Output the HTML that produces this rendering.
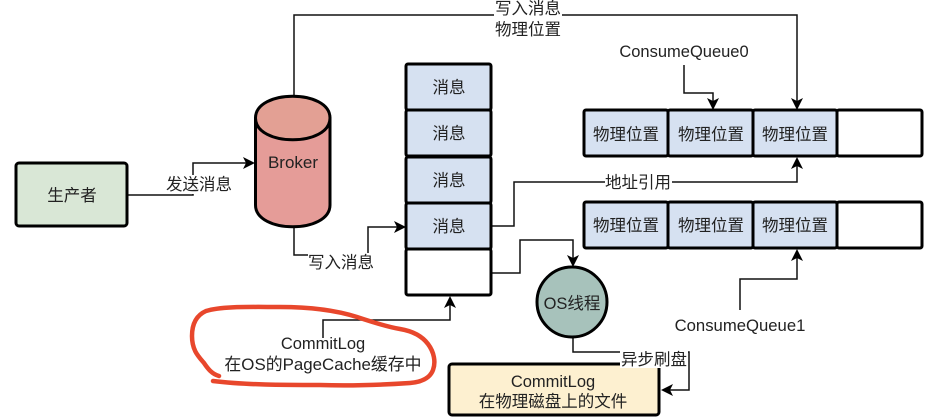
<!DOCTYPE html>
<html><head><meta charset="utf-8"><style>
html,body{margin:0;padding:0;background:#fff;width:935px;height:417px;overflow:hidden}
svg{display:block;filter:blur(.35px)}
text{font-family:"Liberation Sans","Noto Sans CJK SC",sans-serif;font-size:16.5px;fill:#222;text-anchor:middle}
.b{stroke:#000;stroke-width:3;stroke-linejoin:round}
.l{fill:none;stroke:#111;stroke-width:1.5}
.a{fill:#000}
.bg{fill:#fff}
</style></head><body>
<svg width="935" height="417" viewBox="0 0 935 417" xmlns="http://www.w3.org/2000/svg">
<!-- connectors -->
<path class="l" d="M127 195H193V163H247"/>
<path class="l" d="M294 96V15H797V102"/>
<path class="l" d="M294 227V255H368V227H398"/>
<path class="l" d="M491 226H514V182H797V165"/>
<path class="l" d="M491 273H520V240H573V259"/>
<path class="l" d="M323 338V320H450V304"/>
<path class="l" d="M684 65V93H713V102"/>
<path class="l" d="M740 310V279H797V258"/>
<path class="l" d="M573 337V352H689V390H668"/>
<!-- arrowheads -->
<path class="a" d="M255 163L243 157L246 163L243 169Z"/>
<path class="a" d="M406 227L394 221L397 227L394 233Z"/>
<path class="a" d="M797 110L791 98L797 101L803 98Z"/>
<path class="a" d="M713 110L707 98L713 101L719 98Z"/>
<path class="a" d="M797 157L791 169L797 166L803 169Z"/>
<path class="a" d="M797 249L791 261L797 258L803 261Z"/>
<path class="a" d="M450 296L444 308L450 305L456 308Z"/>
<path class="a" d="M573 267L567 255L573 258L579 255Z"/>
<path class="a" d="M661 390L673 384L670 390L673 396Z"/>
<!-- producer -->
<rect class="b" x="16" y="163" width="111" height="63" rx="3" fill="#d9e7d6"/>
<text x="72" y="201">生产者</text>
<!-- broker -->
<path class="b" d="M255.500 118V205C255.500 234 330 234 330 205V118Z" fill="#e59c98"/>
<path class="b" d="M255.500 118C255.500 89 330 89 330 118C330 147 255.500 147 255.500 118Z" fill="#e3a094"/>
<text x="293" y="168" style="font-size:17px">Broker</text>
<!-- stack -->
<rect class="b" x="406" y="64" width="85" height="46" rx="2" fill="#d6e1f1"/>
<rect class="b" x="406" y="110" width="85" height="46" rx="2" fill="#d6e1f1"/>
<rect class="b" x="406" y="157" width="85" height="46" rx="2" fill="#d6e1f1"/>
<rect class="b" x="406" y="203" width="85" height="46" rx="2" fill="#d6e1f1"/>
<rect class="b" x="406" y="249" width="85" height="46" rx="2" fill="#fff"/>
<text x="449" y="93">消息</text>
<text x="449" y="139">消息</text>
<text x="449" y="186">消息</text>
<text x="449" y="232">消息</text>
<!-- queues -->
<rect class="b" x="584" y="110" width="84" height="46" rx="2" fill="#d6e1f1"/>
<rect class="b" x="668" y="110" width="85" height="46" rx="2" fill="#d6e1f1"/>
<rect class="b" x="753" y="110" width="84" height="46" rx="2" fill="#d6e1f1"/>
<rect class="b" x="837" y="110" width="85" height="46" rx="2" fill="#fff"/>
<text x="626" y="140">物理位置</text>
<text x="711" y="140">物理位置</text>
<text x="795" y="140">物理位置</text>
<rect class="b" x="584" y="202" width="84" height="46" rx="2" fill="#d6e1f1"/>
<rect class="b" x="668" y="202" width="85" height="46" rx="2" fill="#d6e1f1"/>
<rect class="b" x="753" y="202" width="84" height="46" rx="2" fill="#d6e1f1"/>
<rect class="b" x="837" y="202" width="85" height="46" rx="2" fill="#fff"/>
<text x="626" y="231">物理位置</text>
<text x="711" y="231">物理位置</text>
<text x="795" y="231">物理位置</text>
<!-- circle and file -->
<circle class="b" cx="572" cy="302" r="35" fill="#a7c2bb"/>
<text x="572" y="309">OS线程</text>
<rect class="b" x="449" y="364" width="210" height="51" rx="3" fill="#fdf0d0"/>
<text x="553" y="387">CommitLog</text>
<text x="553" y="407">在物理磁盘上的文件</text>
<!-- labels -->
<rect class="bg" x="165" y="175" width="68" height="19"/>
<text x="199" y="190">发送消息</text>
<rect class="bg" x="308" y="253" width="67" height="19"/>
<text x="341" y="268">写入消息</text>
<rect class="bg" x="494" y="0" width="68" height="38"/>
<text x="528" y="14">写入消息</text>
<text x="528" y="35">物理位置</text>
<rect class="bg" x="605" y="174" width="67" height="17"/>
<text x="638" y="188">地址引用</text>
<rect class="bg" x="620" y="350" width="68" height="18"/>
<text x="654" y="365">异步刷盘</text>
<text x="684" y="57">ConsumeQueue0</text>
<text x="740" y="331" style="font-size:16.7px">ConsumeQueue1</text>
<text x="323" y="349">CommitLog</text>
<text x="323" y="370" style="font-size:16.9px">在OS的PageCache缓存中</text>
<!-- red freehand -->
<path d="M219 376C212 374 208 369 204 363C198 356 192 350 192 336C192 323 197 315 206 311C222 306 250 307 280 307C310 307 335 310 357 317C375 323 388 327 400 329C412 331 422 336 428 344C434 352 436 362 433 370C430 378 422 382 410 383C380 385 350 386 320 385C285 385 245 385 213 381" fill="none" stroke="#e8472c" stroke-width="4.500" stroke-linecap="round" stroke-linejoin="round"/>
</svg>
</body></html>
